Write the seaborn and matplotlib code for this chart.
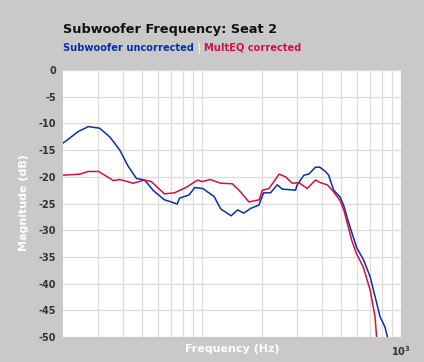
import pandas as pd
import matplotlib
matplotlib.use("Agg")
import matplotlib.pyplot as plt
import seaborn as sns

# uncorrected subwoofer response (Hz, dB)
freq_uncorr = [20, 23.9, 26.8, 30.6, 34.5, 38.6, 42.5, 46.8, 51.4, 57, 64.7, 70, 75, 77, 86, 92, 101,
               115, 124, 140, 151, 162, 176, 193, 204, 221, 239, 253, 295, 301, 325, 344, 372,
               391, 417, 433, 459, 495, 517, 540, 567, 600, 648, 700, 756, 785, 831, 862]
db_uncorr = [-13.7, -11.5, -10.6, -10.9, -12.6, -15.0, -18.0, -20.3, -20.6, -22.6, -24.3, -24.7, -25.1, -24.0, -23.4, -22.0, -22.2,
             -23.7, -26.0, -27.3, -26.2, -26.8, -25.9, -25.3, -23.0, -23.0, -21.5, -22.3, -22.5, -21.5, -19.7, -19.5, -18.2,
             -18.2, -19.0, -19.7, -22.5, -23.8, -25.5, -28.0, -30.5, -33.3, -35.5, -38.7, -43.7, -46.2, -48.1, -50.5]

# MultEQ corrected response (Hz, dB)
freq_corr = [20, 24.3, 26.8, 30.2, 35.8, 38.6, 45, 51.4, 55.6, 64.7, 72.7, 83, 95, 100, 110, 124, 142,
             156, 172, 194, 201, 217, 244, 263, 284, 307, 338, 372, 394, 426, 459, 495, 517, 540, 567,
             600, 648, 700, 741, 756]
db_corr = [-19.7, -19.5, -19.0, -19.0, -20.7, -20.5, -21.2, -20.6, -20.9, -23.2, -23.0, -22.0, -20.6, -20.9, -20.5, -21.2, -21.3,
           -22.8, -24.7, -24.3, -22.5, -22.2, -19.5, -20.0, -21.2, -21.1, -22.2, -20.6, -21.1, -21.5, -22.8, -24.5, -26.3, -29.0, -32.0,
           -34.5, -37.0, -41.2, -46.2, -50.5]

y_ticks = list(range(0, -55, -5))

df = pd.concat([
    pd.DataFrame({"freq": freq_uncorr, "db": db_uncorr, "series": "Subwoofer uncorrected"}),
    pd.DataFrame({"freq": freq_corr, "db": db_corr, "series": "MultEQ corrected"}),
])

blue = "#0b2fa5"
red = "#d3103f"
bg = "#c9c9c9"

sns.set_style("white")
plt.rcParams["font.family"] = ["DejaVu Sans"]

fig = plt.figure(figsize=(4.24, 3.62), dpi=100, facecolor=bg)
ax = fig.add_axes([0.1486, 0.069, 0.797, 0.7376])
ax.set_facecolor("white")

sns.lineplot(data=df, x="freq", y="db", hue="series", sort=False,
             palette={"Subwoofer uncorrected": blue, "MultEQ corrected": red},
             linewidth=1.1, legend=False, ax=ax, zorder=3)

ax.set_xscale("log")
ax.set_xlim(20, 1000)
ax.set_ylim(-50, 0)
ax.set_xticks([100, 1000])
ax.set_xticklabels(["", r"$\mathbf{10^3}$"])
ax.set_xticks([30, 40, 50, 60, 70, 80, 90, 200, 300, 400, 500, 600, 700, 800, 900], minor=True)
ax.xaxis.set_minor_formatter(matplotlib.ticker.NullFormatter())
ax.set_yticks(y_ticks)
ax.set_yticklabels([str(v) for v in y_ticks], fontweight="bold")
ax.tick_params(axis="both", which="both", length=0, labelsize=7, labelcolor="#333333", pad=5)
ax.grid(True, which="both", color="#dcdcdc", linewidth=0.9, zorder=0)
for s in ax.spines.values():
    s.set_visible(False)
ax.set_xlabel("")
ax.set_ylabel("")

fig.text(232 / 424, 1 - 349 / 362, "Frequency (Hz)", color="white", fontweight="bold",
         fontsize=8, ha="center", va="center")
fig.text(24 / 424, 1 - 203 / 362, "Magnitude (dB)", color="white", fontweight="bold",
         fontsize=8, ha="center", va="center", rotation=90)

fig.text(63 / 424, 1 - 30 / 362, "Subwoofer Frequency: Seat 2", fontsize=9.3, fontweight="bold",
         color="#111111", va="center", ha="left")

# multi-colour subtitle
fig.canvas.draw()
r = fig.canvas.get_renderer()
x = 63 / 424
yy = 1 - 48 / 362
for txt, col in [("Subwoofer uncorrected", blue), (" | ", "#f2f2f2"), ("MultEQ corrected", red)]:
    t = fig.text(x, yy, txt, fontsize=7.1, fontweight="bold", color=col, va="center", ha="left")
    bb = t.get_window_extent(renderer=r)
    x += bb.width / fig.bbox.width

fig.savefig("out.png", dpi=100, facecolor=bg)
